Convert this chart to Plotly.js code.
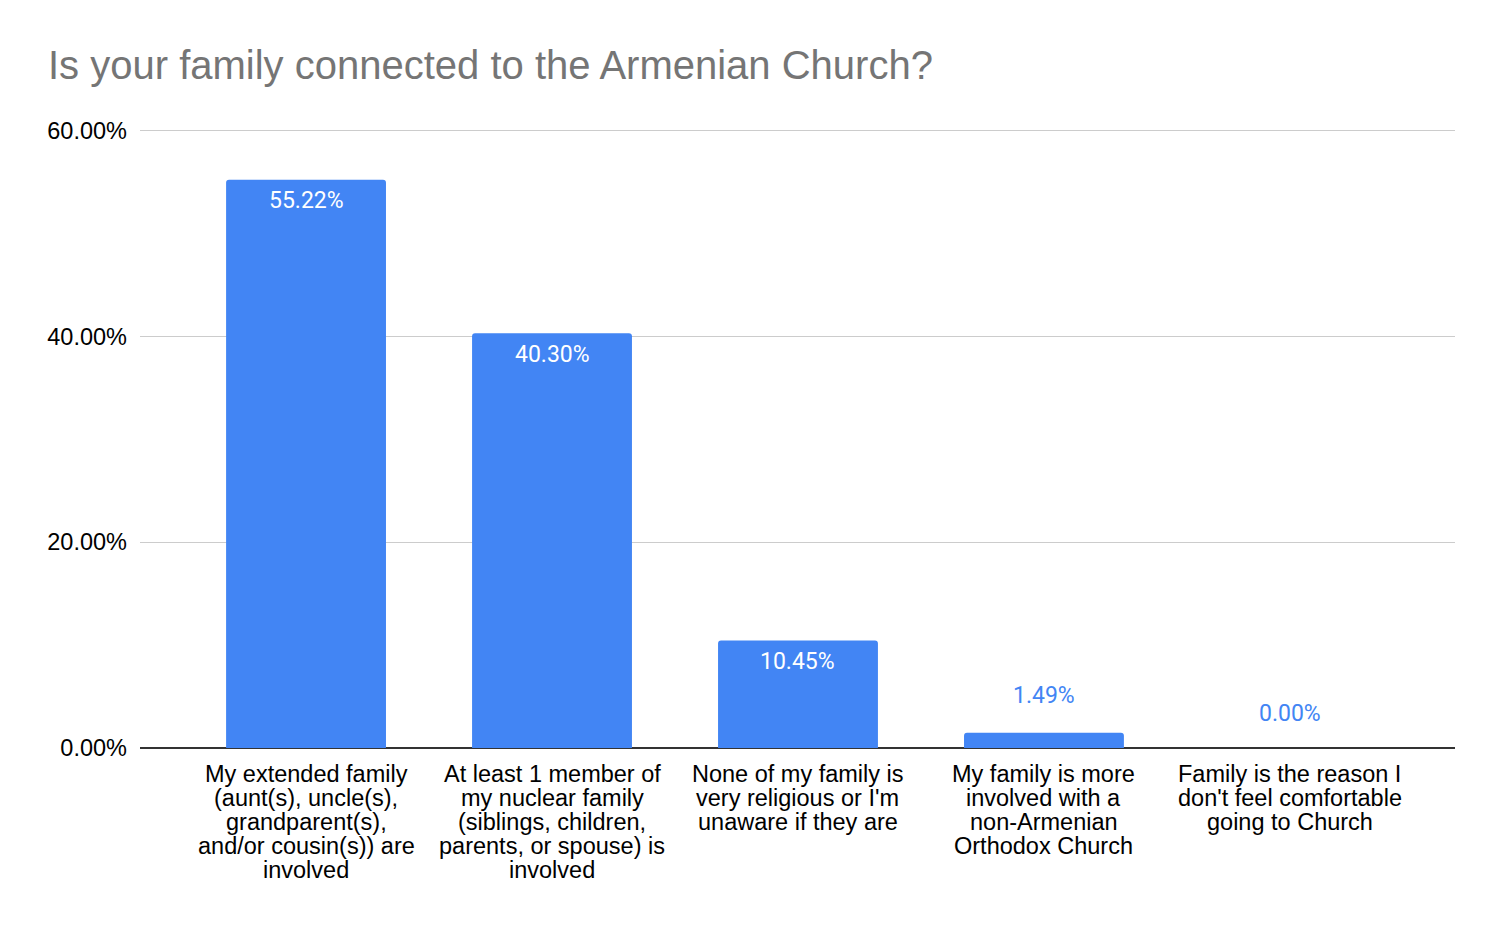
<!DOCTYPE html>
<html>
<head>
<meta charset="utf-8">
<script src="https://cdn.plot.ly/plotly-3.0.1.min.js"></script>
<style>
  html,body{margin:0;padding:0;background:#fff;}
  #chart{width:1502px;height:928px;}
</style>
</head>
<body>
<div id="chart"></div>
<script>
// ── Données ────────────────────────────────────────────────
const categories = [
  'My extended family<br>(aunt(s), uncle(s),<br>grandparent(s),<br>and/or cousin(s)) are<br>involved',
  'At least 1 member of<br>my nuclear family<br>(siblings, children,<br>parents, or spouse) is<br>involved',
  "None of my family is<br>very religious or I'm<br>unaware if they are",
  'My family is more<br>involved with a<br>non-Armenian<br>Orthodox Church',
  "Family is the reason I<br>don't feel comfortable<br>going to Church"
];
const shares = [0.5522, 0.4030, 0.1045, 0.0149, 0.0];
const yTicks = [0, 0.2, 0.4, 0.6];

const BLUE = '#4285f4';

// étiquettes de valeur : dans la barre si elle est assez haute, sinon au-dessus
const valueLabels = shares.map((v, i) => {
  const inside = v > 0.05;
  return {
    x: i, y: v, xref: 'x', yref: 'y',
    text: (v * 100).toFixed(2) + '%', showarrow: false,
    yshift: inside ? -21 : (v > 0 ? 37 : 35),
    font: {family: 'Roboto, sans-serif', size: 23, color: inside ? '#ffffff' : BLUE}
  };
});

// libellés de catégories, une ligne par annotation (interligne serré)
const catLabels = [];
categories.forEach((c, i) => {
  c.split('<br>').forEach((line, k) => {
    catLabels.push({
      x: i, y: 0, xref: 'x', yref: 'y', text: line, showarrow: false,
      yshift: -26 - k * 24,
      font: {family: 'Liberation Sans, Arial, sans-serif', size: 23.5, color: '#000'}
    });
  });
});

const traces = [{
  type: 'bar', x: categories.map((_, i) => i), y: shares,
  marker: {color: BLUE, cornerradius: 3},
  width: 0.65,
  hoverinfo: 'skip'
}];

const layout = {
  width: 1502, height: 928,
  paper_bgcolor: '#fff', plot_bgcolor: '#fff',
  margin: {l: 140, r: 47, t: 129, b: 180},
  showlegend: false,
  title: {
    text: 'Is your family connected to the Armenian Church?',
    x: 0, xref: 'paper', xanchor: 'left', y: 0.93, yref: 'container', yanchor: 'middle',
    pad: {l: -92},
    font: {family: 'Liberation Sans, Arial, sans-serif', size: 40, color: '#757575'}
  },
  font: {family: 'Liberation Sans, Arial, sans-serif', color: '#000'},
  xaxis: {
    range: [-0.675, 4.671], showgrid: false, showline: false, ticks: '',
    showticklabels: false, zeroline: false, automargin: false
  },
  yaxis: {
    range: [0, 0.6015], tickvals: yTicks, tickformat: '.2%',
    showgrid: true, gridcolor: '#cccccc', gridwidth: 1.3,
    zeroline: true, zerolinecolor: '#333333', zerolinewidth: 2,
    showline: false, ticks: '', ticklabelstandoff: 12,
    tickfont: {size: 23.5, color: '#000'}, automargin: false
  },
  annotations: valueLabels.concat(catLabels)
};

Plotly.newPlot('chart', traces, layout, {staticPlot: true, displayModeBar: false});
</script>
</body>
</html>
